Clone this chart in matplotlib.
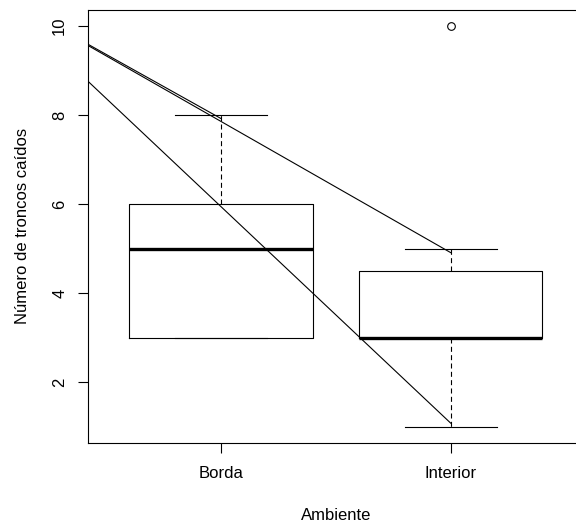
import matplotlib.pyplot as plt

plt.rcParams['font.family'] = ['Liberation Sans', 'DejaVu Sans']

# Resumo dos dados por ambiente
ambientes = ['Borda', 'Interior']
minimos = [3, 1]
q1 = [3, 3]
medianas = [5, 3]
q3 = [6, 4.5]
maximos = [8, 5]
outliers = [[], [10]]

# Retas traçadas sobre o boxplot (x inicial e final, y inicial e final)
retas_x = [[0, 2], [0, 1], [0, 2]]
retas_y = [[10.8, 4.91], [10.8, 7.92], [10.8, 1.08]]

stats = []
for i, nome in enumerate(ambientes):
    stats.append(dict(label=nome, whislo=minimos[i], q1=q1[i], med=medianas[i],
                      q3=q3[i], whishi=maximos[i], fliers=outliers[i]))

fig = plt.figure(figsize=(5.76, 5.22), dpi=100)
ax = fig.add_axes([88 / 576, 1 - 442.7 / 522, (583.8 - 88) / 576, (442.7 - 10) / 522])

ax.bxp(stats, positions=[1, 2], widths=0.8, capwidths=0.4,
       boxprops=dict(color='black', linewidth=0.8),
       medianprops=dict(color='black', linewidth=2.4, solid_capstyle='butt'),
       whiskerprops=dict(color='black', linewidth=0.8, linestyle=(0, (4.5, 3))),
       capprops=dict(color='black', linewidth=0.8),
       flierprops=dict(marker='o', markerfacecolor='none', markeredgecolor='black',
                       markersize=5.5, markeredgewidth=0.8))

for xs, ys in zip(retas_x, retas_y):
    ax.plot(xs, ys, color='black', linewidth=0.8)

ax.set_xlim(0.42, 2.58)
ax.set_ylim(0.64, 10.36)
ax.set_xticks([1, 2])
ax.set_xticklabels(ambientes)
ax.set_yticks([2, 4, 6, 8, 10])
ax.set_yticklabels(['2', '4', '6', '8', '10'], rotation=90, va='center')
ax.tick_params(axis='both', direction='out', length=7, width=0.8, labelsize=12)
ax.tick_params(axis='x', pad=10)
ax.tick_params(axis='y', pad=8)
for s in ax.spines.values():
    s.set_linewidth(0.8)

ax.set_xlabel('Ambiente', fontsize=12, labelpad=19)
ax.set_ylabel('Número de troncos caídos', fontsize=12, labelpad=16)

plt.savefig('out.png', dpi=100)
